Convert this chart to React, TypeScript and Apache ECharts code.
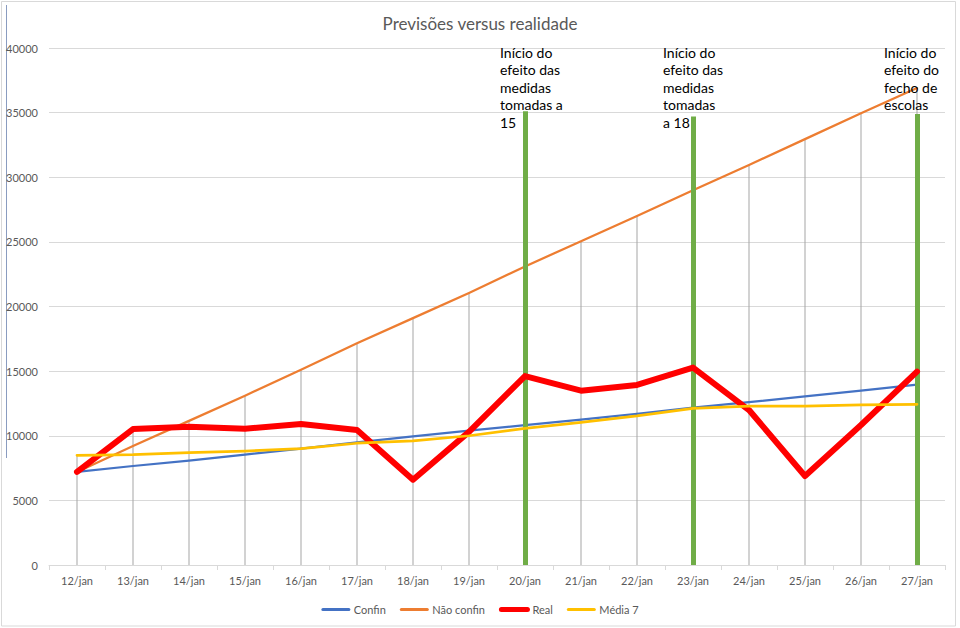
import { useEffect, useRef } from "react";
import * as echarts from "echarts";

// Daily categories on the x axis
const days = [
  "12/jan", "13/jan", "14/jan", "15/jan", "16/jan", "17/jan", "18/jan", "19/jan",
  "20/jan", "21/jan", "22/jan", "23/jan", "24/jan", "25/jan", "26/jan", "27/jan",
];

// Projection with lockdown
const confin = [7200, 7660, 8080, 8540, 9000, 9480, 9950, 10400, 10820, 11250, 11700, 12170, 12600, 13050, 13500, 13950];
// Projection without lockdown
const naoConfin = [7200, 9200, 11150, 13100, 15100, 17150, 19100, 21050, 23100, 25050, 27000, 29000, 30950, 32950, 34950, 36900];
// Reported cases
const real = [7200, 10520, 10700, 10550, 10910, 10450, 6600, 10300, 14620, 13490, 13930, 15270, 11990, 6890, 10830, 14960];
// 7-day average
const media7 = [8490, 8540, 8690, 8820, 9000, 9420, 9600, 10000, 10570, 11040, 11530, 12120, 12300, 12300, 12380, 12430];

// Dates when measures start taking effect, and the height of each marker
const effectDays = ["20/jan", "23/jan", "27/jan"];
const effectTops = [35100, 34700, 34900];
const effectNotes = [
  "Início do\nefeito das\nmedidas\ntomadas a\n15",
  "Início do\nefeito das\nmedidas\ntomadas\na 18",
  "Início do\nefeito do\nfecho de\nescolas",
];

const noteShift = [-25, -30, -33];
const FONT = "Lato, 'Noto Sans', sans-serif";
const GREY_TEXT = "#595959";
const GRID_LINE = "#d9d9d9";

export default function App() {
  const ref = useRef<HTMLDivElement>(null);

  useEffect(() => {
    if (!ref.current) return;
    const chart = echarts.init(ref.current, null, { renderer: "svg" });

    const dropTops = days.map((_, i) => Math.max(confin[i], naoConfin[i], real[i], media7[i]));

    chart.setOption({
      animation: false,
      backgroundColor: "#ffffff",
      title: {
        text: "Previsões versus realidade",
        left: "center",
        top: 10,
        textStyle: { fontFamily: FONT, fontSize: 17, fontWeight: "normal", color: GREY_TEXT },
      },
      legend: {
        top: 599,
        left: "center",
        itemWidth: 26,
        itemHeight: 14,
        itemGap: 14,
        itemStyle: { opacity: 0 },
        textStyle: { fontFamily: FONT, fontSize: 11, color: GREY_TEXT },
        data: [
          { name: "Confin", lineStyle: { width: 3 } },
          { name: "Não confin", lineStyle: { width: 3 } },
          { name: "Real", lineStyle: { width: 5 } },
          { name: "Média 7", lineStyle: { width: 3 } },
        ],
      },
      grid: { left: 49, right: 15, top: 48, bottom: 63, containLabel: false },
      xAxis: {
        type: "category",
        data: days,
        boundaryGap: true,
        axisLine: { lineStyle: { color: GRID_LINE, width: 1 } },
        axisTick: { show: true, length: 5, lineStyle: { color: GRID_LINE } },
        axisLabel: { color: GREY_TEXT, fontSize: 11, fontFamily: FONT, margin: 10 },
        splitLine: { show: false },
      },
      yAxis: {
        type: "value",
        min: 0,
        max: 40000,
        interval: 5000,
        axisLine: { show: false },
        axisTick: { show: false },
        axisLabel: {
          color: GREY_TEXT,
          fontSize: 11,
          fontFamily: FONT,
          margin: 11,
          formatter: (v: number) => String(v),
        },
        splitLine: { lineStyle: { color: GRID_LINE, width: 1 } },
      },
      series: [
        {
          name: "drop",
          type: "bar",
          data: dropTops,
          barWidth: 1,
          itemStyle: { color: "#a6a6a6" },
          silent: true,
          z: 1,
        },
        {
          name: "Confin",
          type: "line",
          data: confin,
          symbol: "none",
          lineStyle: { color: "#4472c4", width: 2.25, join: "round", cap: "round" },
          itemStyle: { color: "#4472c4" },
          z: 3,
        },
        {
          name: "Não confin",
          type: "line",
          data: naoConfin,
          symbol: "none",
          lineStyle: { color: "#ed7d31", width: 2.25, join: "round", cap: "round" },
          itemStyle: { color: "#ed7d31" },
          z: 4,
        },
        {
          name: "Real",
          type: "line",
          data: real,
          symbol: "none",
          lineStyle: { color: "#ff0000", width: 6, join: "round", cap: "round" },
          itemStyle: { color: "#ff0000" },
          z: 5,
        },
        {
          name: "Média 7",
          type: "line",
          data: media7,
          symbol: "none",
          lineStyle: { color: "#ffc000", width: 2.75, join: "round", cap: "round" },
          itemStyle: { color: "#ffc000" },
          z: 6,
        },
        {
          name: "efeito",
          type: "line",
          data: days.map(() => null),
          symbol: "none",
          silent: true,
          z: 10,
          markLine: {
            silent: true,
            symbol: "none",
            label: { show: false },
            lineStyle: { color: "#70ad47", width: 5, type: "solid" },
            data: effectDays.map((d, i) => [{ coord: [d, 0] }, { coord: [d, effectTops[i]] }]),
          },
        },
      ],
    });

    const notes = effectDays.map((d, i) => {
      const cx = chart.convertToPixel({ xAxisIndex: 0 }, d) as number;
      return {
        type: "text",
        x: cx + noteShift[i],
        y: 43.5,
        silent: true,
        z: 20,
        style: {
          text: effectNotes[i],
          fill: "#000000",
          font: `14px ${FONT}`,
          lineHeight: 17.5,
          textAlign: "left",
          textVerticalAlign: "top",
        },
      };
    });

    chart.setOption({
      graphic: [
        {
          type: "rect",
          shape: { x: 1.5, y: 1.5, width: 954, height: 624.5 },
          style: { fill: "none", stroke: GRID_LINE, lineWidth: 1 },
          silent: true,
          z: 0,
        },
        {
          type: "line",
          shape: { x1: 6.5, y1: 5, x2: 6.5, y2: 458 },
          style: { stroke: "#8a9cc0", lineWidth: 1 },
          silent: true,
        },
        ...notes,
      ],
    });

    return () => chart.dispose();
  }, []);

  return (
    <div
      ref={ref}
      style={{ position: "fixed", left: 0, top: 0, width: 960, height: 628, background: "#fff" }}
    />
  );
}
